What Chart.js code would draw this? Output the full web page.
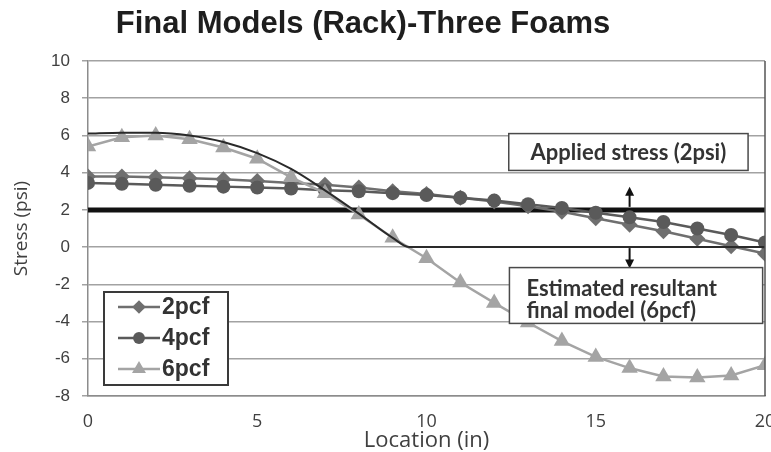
<!DOCTYPE html>
<html>
<head>
<meta charset="utf-8">
<script src="https://cdn.jsdelivr.net/npm/chart.js@4.4.0/dist/chart.umd.min.js"></script>
<style>
  html, body { margin: 0; padding: 0; background: #fff; }
  #wrap { width: 771px; height: 452px; }
</style>
</head>
<body>
<div id="wrap"><canvas id="grafico" width="771" height="452"></canvas></div>
<script>
// data
const locations = [0, 1, 2, 3, 4, 5, 6, 7, 8, 9, 10, 11, 12, 13, 14, 15, 16, 17, 18, 19, 20];
const stress2pcf = [3.8, 3.8, 3.75, 3.7, 3.65, 3.55, 3.45, 3.35, 3.2, 3.0, 2.85, 2.65, 2.45, 2.2, 1.9, 1.55, 1.2, 0.85, 0.45, 0.05, -0.35];
const stress4pcf = [3.45, 3.4, 3.35, 3.3, 3.25, 3.2, 3.15, 3.05, 3.0, 2.9, 2.8, 2.65, 2.5, 2.3, 2.1, 1.85, 1.6, 1.35, 1.0, 0.65, 0.25];
const stress6pcf = [5.4, 5.9, 6.0, 5.8, 5.35, 4.75, 3.75, 2.9, 1.75, 0.5, -0.6, -1.9, -3.0, -4.05, -5.05, -5.9, -6.5, -6.95, -7.0, -6.9, -6.35];
const modelLocations = [0, 1, 2, 3, 4, 5, 6, 7, 8, 9, 9.5, 20];
const modelStress = [6.1, 6.15, 6.15, 6.0, 5.65, 5.05, 4.2, 3.05, 1.8, 0.5, 0, 0];
const appliedLocations = [0, 20];
const appliedStress = [2, 2];
const xTicks = [0, 5, 10, 15, 20];
const yTicks = [-8, -6, -4, -2, 0, 2, 4, 6, 8, 10];

const pts = (xs, ys) => xs.map((v, i) => ({ x: v, y: ys[i] }));

const series = [
  { label: "2pcf", data: pts(locations, stress2pcf), color: "#6f6f6f", pointStyle: "rectRot", radius: 8 },
  { label: "4pcf", data: pts(locations, stress4pcf), color: "#5a5a5a", pointStyle: "circle", radius: 7 },
  { label: "6pcf", data: pts(locations, stress6pcf), color: "#a4a4a4", pointStyle: "triangle", radius: 9.5 },
];

const datasets = series.map((s, i) => ({
  label: s.label,
  data: s.data,
  borderColor: s.color,
  backgroundColor: s.color,
  borderWidth: 2.5,
  pointStyle: s.pointStyle,
  pointRadius: s.radius,
  pointBorderWidth: 0,
  pointBackgroundColor: s.color,
  order: 3 - i,
}));

datasets.push({
  label: "Estimated resultant final model (6pcf)",
  data: pts(modelLocations, modelStress),
  borderColor: "#2a2a2a",
  borderWidth: 2,
  pointRadius: 0,
  cubicInterpolationMode: "monotone",
  order: 0,
});
datasets.push({
  label: "Applied stress (2psi)",
  data: pts(appliedLocations, appliedStress),
  borderColor: "#111",
  borderWidth: 5,
  pointRadius: 0,
  order: 5,
});

function arrow(ctx, x, y0, y1) {
  const dir = y1 < y0 ? -1 : 1;
  ctx.beginPath();
  ctx.moveTo(x, y0);
  ctx.lineTo(x, y1 - dir * 7);
  ctx.stroke();
  ctx.beginPath();
  ctx.moveTo(x, y1);
  ctx.lineTo(x - 4.5, y1 - dir * 9);
  ctx.lineTo(x + 4.5, y1 - dir * 9);
  ctx.closePath();
  ctx.fill();
}

function box(ctx, x0, y0, x1, y1) {
  ctx.fillStyle = "#fff";
  ctx.fillRect(x0, y0, x1 - x0, y1 - y0);
  ctx.strokeStyle = "#4a4a4a";
  ctx.lineWidth = 1.5;
  ctx.strokeRect(x0, y0, x1 - x0, y1 - y0);
}

const decor = {
  id: "decor",
  afterDraw(chart) {
    const { ctx, scales: { x, y }, chartArea } = chart;
    ctx.save();

    // title
    ctx.fillStyle = "#1e1e1e";
    ctx.font = 'bold 31px "Liberation Sans", Arial, sans-serif';
    ctx.textAlign = "center";
    ctx.textBaseline = "alphabetic";
    ctx.fillText("Final Models (Rack)-Three Foams", 363, 33);

    // right border of the plot
    ctx.strokeStyle = "#555";
    ctx.lineWidth = 1.5;
    ctx.beginPath();
    ctx.moveTo(chartArea.right, chartArea.top);
    ctx.lineTo(chartArea.right, chartArea.bottom);
    ctx.stroke();

    // arrows at 16 in
    ctx.strokeStyle = "#111";
    ctx.fillStyle = "#111";
    ctx.lineWidth = 2;
    arrow(ctx, x.getPixelForValue(16), y.getPixelForValue(2) - 3, y.getPixelForValue(3.25));
    arrow(ctx, x.getPixelForValue(16), y.getPixelForValue(0) + 1, y.getPixelForValue(-1.15));

    // annotation boxes
    const b1 = [x.getPixelForValue(12.43), y.getPixelForValue(6.1), x.getPixelForValue(19.5), y.getPixelForValue(4.12)];
    box(ctx, ...b1);
    ctx.fillStyle = "#333";
    ctx.font = 'bold 22px Lato, "Open Sans", sans-serif';
    ctx.textAlign = "center";
    ctx.fillText("Applied stress (2psi)", (b1[0] + b1[2]) / 2, b1[1] + 26);

    const b2 = [x.getPixelForValue(12.45), y.getPixelForValue(-1.1), x.getPixelForValue(19.93), y.getPixelForValue(-4.1)];
    box(ctx, ...b2);
    ctx.fillStyle = "#333";
    ctx.textAlign = "left";
    ctx.fillText("Estimated resultant", b2[0] + 17, b2[1] + 28);
    ctx.fillText("final model (6pcf)", b2[0] + 17, b2[1] + 50);

    // legend
    const lx = chartArea.left + 16, ly = chartArea.top + 231;
    box(ctx, lx, ly, lx + 124, ly + 93);
    ctx.strokeStyle = "#3a3a3a";
    ctx.lineWidth = 2;
    ctx.strokeRect(lx, ly, 124, 93);
    series.forEach((s, i) => {
      const cy = ly + 15 + i * 31;
      ctx.strokeStyle = s.color;
      ctx.fillStyle = s.color;
      ctx.lineWidth = 2.5;
      ctx.beginPath();
      ctx.moveTo(lx + 14, cy);
      ctx.lineTo(lx + 56, cy);
      ctx.stroke();
      Chart.helpers.drawPoint(ctx, { pointStyle: s.pointStyle, radius: s.radius * 0.85, borderWidth: 0, rotation: 0 }, lx + 35, cy);
      ctx.fillStyle = "#333";
      ctx.font = 'bold 23px "Liberation Sans", Arial, sans-serif';
      ctx.textAlign = "left";
      ctx.textBaseline = "middle";
      ctx.fillText(s.label, lx + 58, cy + 1);
      ctx.textBaseline = "alphabetic";
    });

    ctx.restore();
  },
};

new Chart(document.getElementById("grafico"), {
  type: "line",
  data: { datasets },
  plugins: [decor],
  options: {
    responsive: false,
    animation: false,
    devicePixelRatio: 1,
    layout: { autoPadding: false, padding: { top: 61, right: 6, left: 0, bottom: 0 } },
    plugins: { legend: { display: false }, tooltip: { enabled: false } },
    scales: {
      x: {
        type: "linear",
        min: 0,
        max: 20,
        afterBuildTicks: (s) => { s.ticks = xTicks.map((v) => ({ value: v })); },
        afterFit: (s) => { s.height = 56; s.paddingLeft = 0; s.paddingRight = 0; },
        ticks: { color: "#404040", font: { family: '"Open Sans", sans-serif', size: 18 }, padding: 15 },
        grid: { drawTicks: false, color: "transparent" },
        border: { display: true, color: "#8c8c8c", width: 1.5 },
        title: {
          display: true,
          text: "Location (in)",
          color: "#404040",
          font: { family: '"Open Sans", sans-serif', size: 22, lineHeight: 1 },
          padding: { top: 0, bottom: 0 },
        },
      },
      y: {
        min: -8,
        max: 10,
        afterBuildTicks: (s) => { s.ticks = yTicks.map((v) => ({ value: v })); },
        afterFit: (s) => { s.width = 88; s.paddingTop = 0; s.paddingBottom = 0; },
        ticks: { color: "#404040", font: { family: '"Liberation Sans", Arial, sans-serif', size: 17 }, padding: 12 },
        grid: { color: "#a2a2a2", lineWidth: 1.5, tickLength: 6 },
        border: { display: true, color: "#8c8c8c", width: 1.5 },
        title: {
          display: true,
          text: "Stress (psi)",
          color: "#404040",
          font: { family: '"Open Sans", sans-serif', size: 19, lineHeight: 1 },
          padding: { top: 12, bottom: 0 },
        },
      },
    },
  },
});
</script>
</body>
</html>
